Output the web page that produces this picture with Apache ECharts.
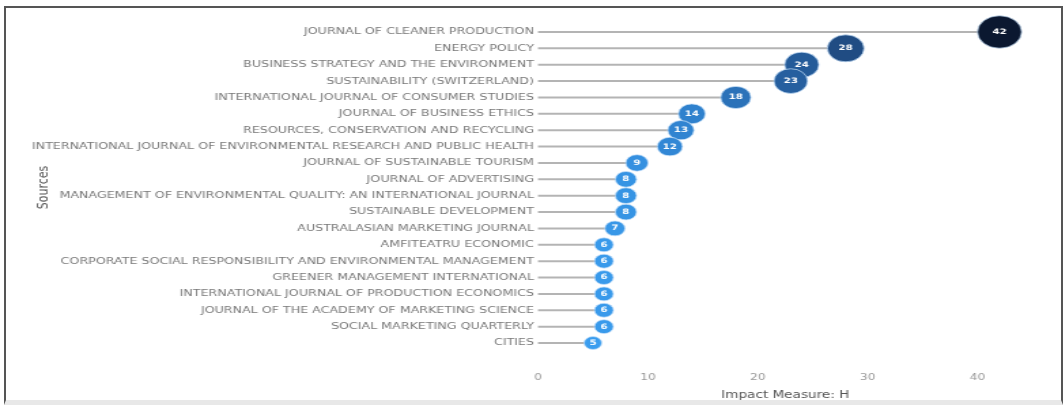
<!DOCTYPE html>
<html><head><meta charset="utf-8">
<script src="https://cdn.jsdelivr.net/npm/echarts@6/dist/echarts.min.js"></script>
<style>
html,body{margin:0;padding:0;background:#fff;overflow:hidden;}
#chart{position:absolute;left:0;top:0;height:407px;transform-origin:0 0;}
#frame{position:absolute;left:4px;top:6px;width:1059px;height:399px;border-left:2px solid #555;border-top:2px solid #555;border-right:2px solid #555;border-bottom:5px solid #e8e8e8;box-sizing:border-box;pointer-events:none;}
</style></head><body>
<div id="chart"></div><div id="frame"></div>
<script>
const sources = [
  "JOURNAL OF CLEANER PRODUCTION",
  "ENERGY POLICY",
  "BUSINESS STRATEGY AND THE ENVIRONMENT",
  "SUSTAINABILITY (SWITZERLAND)",
  "INTERNATIONAL JOURNAL OF CONSUMER STUDIES",
  "JOURNAL OF BUSINESS ETHICS",
  "RESOURCES, CONSERVATION AND RECYCLING",
  "INTERNATIONAL JOURNAL OF ENVIRONMENTAL RESEARCH AND PUBLIC HEALTH",
  "JOURNAL OF SUSTAINABLE TOURISM",
  "JOURNAL OF ADVERTISING",
  "MANAGEMENT OF ENVIRONMENTAL QUALITY: AN INTERNATIONAL JOURNAL",
  "SUSTAINABLE DEVELOPMENT",
  "AUSTRALASIAN MARKETING JOURNAL",
  "AMFITEATRU ECONOMIC",
  "CORPORATE SOCIAL RESPONSIBILITY AND ENVIRONMENTAL MANAGEMENT",
  "GREENER MANAGEMENT INTERNATIONAL",
  "INTERNATIONAL JOURNAL OF PRODUCTION ECONOMICS",
  "JOURNAL OF THE ACADEMY OF MARKETING SCIENCE",
  "SOCIAL MARKETING QUARTERLY",
  "CITIES"
];
const hIndex = [42, 28, 24, 23, 18, 14, 13, 12, 9, 8, 8, 8, 7, 6, 6, 6, 6, 6, 6, 5];
const xTicks = [0, 10, 20, 30, 40];

// the reference picture is stretched horizontally; reproduce that stretch
const STRETCH = 1.36;
const el = document.getElementById('chart');
el.style.width = (1064 / STRETCH) + 'px';
el.style.transform = 'scaleX(' + STRETCH + ')';

const chart = echarts.init(el);
const pts = hIndex.map((v, i) => [v, sources[i]]);
chart.setOption({
  animation: false,
  backgroundColor: '#fff',
  grid: {left: 538 / STRETCH, right: 31 / STRETCH, top: 23.8, bottom: 55.8,
         containLabel: false, outerBoundsMode: 'none'},
  xAxis: {
    type: 'value', min: xTicks[0], max: 45, interval: xTicks[1] - xTicks[0],
    axisLine: {show: false}, axisTick: {show: false}, splitLine: {show: false},
    axisLabel: {color: '#9a9a9a', fontSize: 9, margin: 22, showMaxLabel: false, fontFamily: 'DejaVu Sans'},
    name: 'Impact Measure: H', nameLocation: 'middle', nameGap: 39, nameMoveOverlap: false,
    nameTextStyle: {color: '#555', fontSize: 10, fontFamily: 'DejaVu Sans'}
  },
  yAxis: {
    type: 'category', data: sources, inverse: true,
    axisLine: {show: false}, axisTick: {show: false},
    axisLabel: {color: '#7a7a7a', fontSize: 9.3, margin: 3, fontFamily: 'DejaVu Sans'},
    name: 'Sources', nameLocation: 'middle', nameGap: 358, nameRotate: 90, nameMoveOverlap: false,
    nameTextStyle: {color: '#555', fontSize: 11, fontFamily: 'DejaVu Sans'}
  },
  visualMap: {
    show: false, type: 'continuous', seriesIndex: 1, dimension: 0,
    min: 5, max: 42,
    inRange: {color: ['#3a9def', '#2f80cc', '#255d9c', '#1a3b68', '#0b1830']}
  },
  series: [
    {
      type: 'bar', data: hIndex, barWidth: 2, silent: true,
      itemStyle: {color: '#b4b4b4'}, z: 1
    },
    {
      type: 'scatter', data: pts, z: 3,
      symbol: 'circle',
      symbolSize: function (val) {
        return 2.66 + 4.6 * Math.sqrt(val[0]);
      },
      itemStyle: {borderColor: 'rgba(200,225,250,0.7)', borderWidth: 1, opacity: 1},
      label: {
        show: true, position: 'inside', formatter: p => p.value[0],
        color: '#fff', fontSize: 7.5, fontWeight: 'bold', fontFamily: 'DejaVu Sans'
      }
    }
  ]
});
</script>
</body></html>
